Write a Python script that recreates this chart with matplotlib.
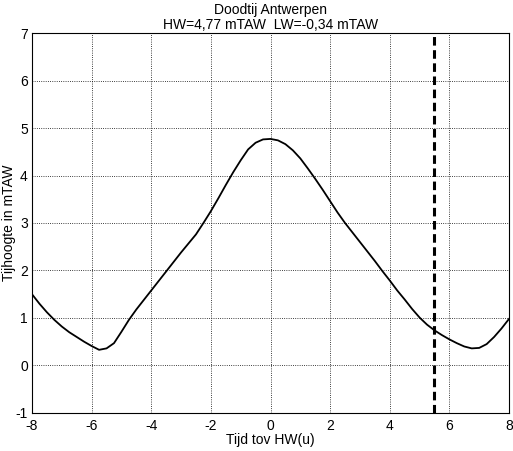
import matplotlib
matplotlib.use("Agg")
import matplotlib.pyplot as plt
import numpy as np

# Tide curve (hours relative to high water, m TAW)
hours = np.arange(-8, 8.01, 0.25)
level = [1.50, 1.30, 1.12, 0.96, 0.82, 0.70, 0.60, 0.50, 0.41, 0.33,
         0.36, 0.47, 0.71, 0.96, 1.18, 1.38, 1.58, 1.78, 1.98, 2.18,
         2.38, 2.57, 2.76, 3.00, 3.25, 3.52, 3.80, 4.07, 4.32, 4.55,
         4.69, 4.76, 4.77, 4.74, 4.66, 4.53, 4.36, 4.15, 3.93, 3.70,
         3.46, 3.22, 3.00, 2.80, 2.60, 2.40, 2.20, 1.99, 1.79, 1.58,
         1.39, 1.19, 1.01, 0.86, 0.74, 0.64, 0.55, 0.47, 0.40, 0.36,
         0.37, 0.45, 0.60, 0.78, 0.98]
now_marker = 5.5
xticks = [-8, -6, -4, -2, 0, 2, 4, 6, 8]
yticks = [-1, 0, 1, 2, 3, 4, 5, 6, 7]

plt.rcParams["font.family"] = ["Liberation Sans", "DejaVu Sans"]
plt.rcParams["font.size"] = 10
plt.rcParams["axes.unicode_minus"] = False

fig = plt.figure(figsize=(5.13, 4.51), dpi=100)
ax = fig.add_axes([0.0624, 0.0843, 0.9298, 0.8425])

ax.plot(hours, level, color="black", linewidth=1.3)
ax.axvline(now_marker, color="black", linewidth=2.2, linestyle=(0, (2.8, 1.5)))

ax.set_xlim(-8, 8)
ax.set_ylim(-1, 7)
ax.set_xticks(xticks)
ax.set_yticks(yticks)
ax.grid(True, color="black", linestyle=":", linewidth=0.6)
ax.tick_params(direction="in", length=0)
ax.tick_params(axis="x", pad=4)
ax.tick_params(axis="y", pad=3)
for s in ax.spines.values():
    s.set_linewidth(0.8)

ax.set_xlabel("Tijd tov HW(u)", labelpad=0)
ax.set_ylabel("Tijhoogte in mTAW", labelpad=0)
ax.set_title("Doodtij Antwerpen\nHW=4,77 mTAW  LW=-0,34 mTAW", fontsize=10, pad=3, linespacing=1.1)

fig.savefig("out.png", dpi=100)
